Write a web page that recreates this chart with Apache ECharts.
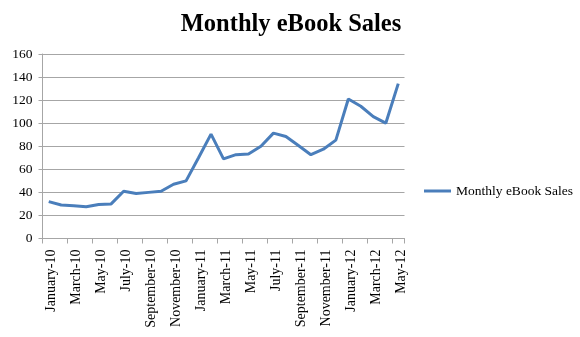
<!DOCTYPE html>
<html>
<head>
<meta charset="utf-8">
<script src="https://cdn.jsdelivr.net/npm/echarts@6/dist/echarts.min.js"></script>
<style>
  html, body { margin: 0; padding: 0; background: #fff; }
  #chart { width: 580px; height: 337px; }
</style>
</head>
<body>
<div id="chart"></div>
<script>
// Month labels, January 2010 through May 2012
const months = [
  'January-10', 'February-10', 'March-10', 'April-10', 'May-10', 'June-10',
  'July-10', 'August-10', 'September-10', 'October-10', 'November-10', 'December-10',
  'January-11', 'February-11', 'March-11', 'April-11', 'May-11', 'June-11',
  'July-11', 'August-11', 'September-11', 'October-11', 'November-11', 'December-11',
  'January-12', 'February-12', 'March-12', 'April-12', 'May-12'
];

// Sales per month
const sales = [
  32, 29, 28.5, 27.5, 29.5, 30,
  41, 39, 40, 41, 47, 50,
  70, 90.5, 69, 72.7, 73.3, 80,
  91.4, 88.5, 80.6, 72.7, 77.4, 85.3,
  121, 114.7, 105.7, 100, 134.3
];

const seriesName = 'Monthly eBook Sales';
const yTicks = { min: 0, max: 160, step: 20 };

const serif = '"Liberation Serif", "Times New Roman", serif';
const lineBlue = '#4a7ebb';
const gridGray = '#a6a6a6';

const chart = echarts.init(document.getElementById('chart'));
chart.setOption({
  animation: false,
  backgroundColor: '#ffffff',
  title: {
    text: 'Monthly eBook Sales',
    left: 286,
    textAlign: 'center',
    top: 7,
    textStyle: { fontFamily: serif, fontSize: 24.5, fontWeight: 'bold', color: '#000' }
  },
  legend: {
    data: [seriesName],
    left: 424,
    top: 184,
    padding: 0,
    itemWidth: 27,
    itemHeight: 14,
    itemGap: 0,
    icon: 'path://M0,6 L27,6 L27,9 L0,9 Z',
    textStyle: { fontFamily: serif, fontSize: 13.5, color: '#000' }
  },
  grid: { left: 42.5, right: 175.5, top: 54, bottom: 98.5, containLabel: false },
  xAxis: {
    type: 'category',
    data: months,
    boundaryGap: true,
    axisLine: { lineStyle: { color: gridGray, width: 1 } },
    axisTick: { show: true, interval: 1, length: 5, lineStyle: { color: gridGray } },
    axisLabel: {
      interval: 1,
      rotate: 90,
      margin: 11,
      verticalAlign: 'top',
      lineHeight: 6,
      fontFamily: serif,
      fontSize: 14,
      color: '#000'
    }
  },
  yAxis: {
    type: 'value',
    min: yTicks.min,
    max: yTicks.max,
    interval: yTicks.step,
    axisLine: { show: true, lineStyle: { color: gridGray, width: 1 } },
    axisTick: { show: true, length: 4, lineStyle: { color: gridGray } },
    splitLine: { show: true, lineStyle: { color: gridGray, width: 1 } },
    axisLabel: { margin: 10, fontFamily: serif, fontSize: 13.5, color: '#000' }
  },
  series: [{
    name: seriesName,
    type: 'line',
    data: sales,
    symbol: 'none',
    lineStyle: { color: lineBlue, width: 3 },
    itemStyle: { color: lineBlue }
  }]
});
</script>
</body>
</html>
